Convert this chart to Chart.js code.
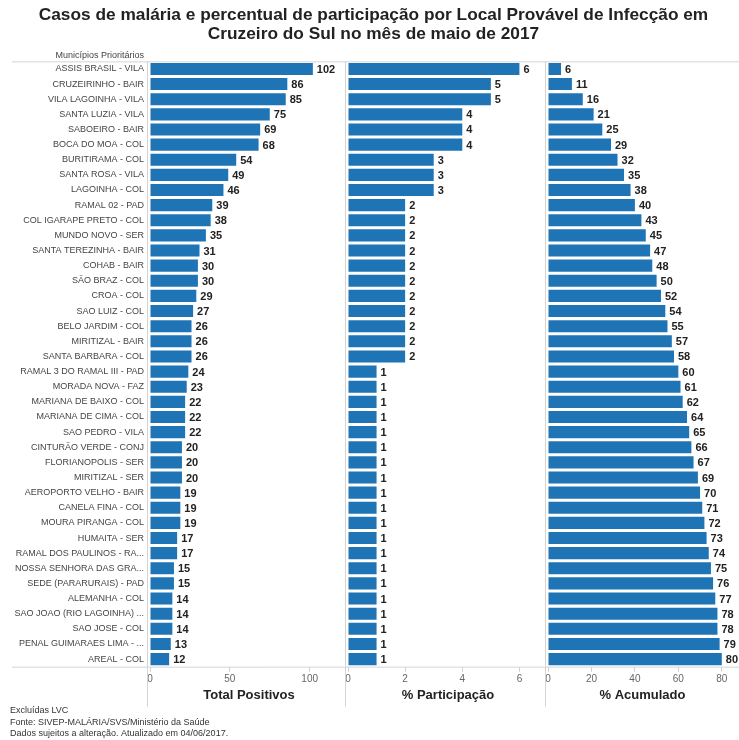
<!DOCTYPE html>
<html>
<head>
<meta charset="utf-8">
<script src="https://cdn.jsdelivr.net/npm/chart.js@4.4.0/dist/chart.umd.min.js"></script>
<style>
  html, body { margin: 0; padding: 0; background: #fff; }
  #wrap { width: 739px; height: 740px; }
</style>
</head>
<body>
<div id="wrap"><canvas id="grafico"></canvas></div>
<script>
// locais de infecção (ordem decrescente de casos)
var locais = [
  "ASSIS BRASIL - VILA", "CRUZEIRINHO - BAIR", "VILA LAGOINHA - VILA", "SANTA LUZIA - VILA",
  "SABOEIRO - BAIR", "BOCA DO MOA - COL", "BURITIRAMA - COL", "SANTA ROSA - VILA",
  "LAGOINHA - COL", "RAMAL 02 - PAD", "COL IGARAPE PRETO - COL", "MUNDO NOVO - SER",
  "SANTA TEREZINHA - BAIR", "COHAB - BAIR", "SÃO BRAZ - COL", "CROA - COL",
  "SAO LUIZ - COL", "BELO JARDIM - COL", "MIRITIZAL - BAIR", "SANTA BARBARA - COL",
  "RAMAL 3 DO RAMAL III - PAD", "MORADA NOVA - FAZ", "MARIANA DE BAIXO - COL", "MARIANA DE CIMA - COL",
  "SAO PEDRO - VILA", "CINTURÃO VERDE - CONJ", "FLORIANOPOLIS - SER", "MIRITIZAL - SER",
  "AEROPORTO VELHO - BAIR", "CANELA FINA - COL", "MOURA PIRANGA - COL", "HUMAITA - SER",
  "RAMAL DOS PAULINOS - RA...", "NOSSA SENHORA DAS GRA...", "SEDE (PARARURAIS) - PAD", "ALEMANHA - COL",
  "SAO JOAO (RIO LAGOINHA) ...", "SAO JOSE - COL", "PENAL GUIMARAES LIMA - ...", "AREAL - COL"
];

var totalPositivos = [102, 86, 85, 75, 69, 68, 54, 49, 46, 39, 38, 35, 31, 30, 30, 29, 27, 26, 26, 26,
  24, 23, 22, 22, 22, 20, 20, 20, 19, 19, 19, 17, 17, 15, 15, 14, 14, 14, 13, 12];

var participacao = [6, 5, 5, 4, 4, 4, 3, 3, 3, 2, 2, 2, 2, 2, 2, 2, 2, 2, 2, 2,
  1, 1, 1, 1, 1, 1, 1, 1, 1, 1, 1, 1, 1, 1, 1, 1, 1, 1, 1, 1];

var acumulado = [6, 11, 16, 21, 25, 29, 32, 35, 38, 40, 43, 45, 47, 48, 50, 52, 54, 55, 57, 58,
  60, 61, 62, 64, 65, 66, 67, 69, 70, 71, 72, 73, 74, 75, 76, 77, 78, 78, 79, 80];

var ticksTotal = [0, 50, 100];
var ticksParticipacao = [0, 2, 4, 6];
var ticksAcumulado = [0, 20, 40, 60, 80];

var titulo = ["Casos de malária e percentual de participação por Local Provável de Infecção em",
  "Cruzeiro do Sul no mês de maio de 2017"];
var rodape = ["Excluídas LVC", "Fonte: SIVEP-MALÁRIA/SVS/Ministério da Saúde",
  "Dados sujeitos a alteração. Atualizado em 04/06/2017."];

var AZUL = "#1f74b6";
var FONTE = "'Liberation Sans', Arial, sans-serif";

function serie(dados, eixo) {
  return {
    data: dados,
    xAxisID: eixo,
    backgroundColor: AZUL,
    borderWidth: 0,
    grouped: false,
    barPercentage: 0.8,
    categoryPercentage: 1
  };
}

function eixoX(titulo, max, peso, lista) {
  return {
    type: "linear",
    position: "bottom",
    stack: "paineis",
    stackWeight: peso,
    min: 0,
    max: max,
    afterBuildTicks: function (s) { s.ticks = lista.map(function (v) { return { value: v }; }); },
    grid: { drawOnChartArea: false, drawTicks: true, tickLength: 5, color: "#cfcfcf" },
    border: { display: false },
    ticks: { padding: 2, color: "#666", font: { family: FONTE, size: 10 }, maxRotation: 0 },
    title: { display: true, text: titulo, color: "#222", padding: 0,
             font: { family: FONTE, size: 13, weight: "bold" } }
  };
}

// linhas de moldura, divisórias dos painéis e rótulos de valor
var moldura = {
  id: "moldura",
  beforeDatasetsDraw: function (chart) {
    var ctx = chart.ctx, a = chart.chartArea;
    ctx.save();
    ctx.strokeStyle = "#d4d4d4";
    ctx.lineWidth = 1;
    ctx.beginPath();
    ctx.moveTo(12, a.top + 0.5); ctx.lineTo(chart.width, a.top + 0.5);
    ctx.moveTo(12, a.bottom + 0.5); ctx.lineTo(chart.width, a.bottom + 0.5);
    ["xTotal", "xPart", "xAcum"].forEach(function (id) {
      var x = Math.round(chart.scales[id].left) - 2.5;
      ctx.moveTo(x, a.top); ctx.lineTo(x, a.bottom + 40);
    });
    ctx.stroke();
    ctx.fillStyle = "#444";
    ctx.font = "9px " + FONTE;
    ctx.textAlign = "right";
    ctx.textBaseline = "bottom";
    ctx.fillText("Municípios Prioritários", chart.scales.y.right - 6, a.top - 1);
    ctx.restore();
  },
  afterDatasetsDraw: function (chart) {
    var ctx = chart.ctx;
    ctx.save();
    ctx.fillStyle = "#222";
    ctx.font = "bold 11px " + FONTE;
    ctx.textAlign = "left";
    ctx.textBaseline = "middle";
    chart.data.datasets.forEach(function (ds, i) {
      chart.getDatasetMeta(i).data.forEach(function (bar, j) {
        ctx.fillText(ds.data[j], bar.x + 4, bar.y + 1);
      });
    });
    ctx.restore();
  }
};

new Chart(document.getElementById("grafico"), {
  type: "bar",
  data: {
    labels: locais,
    datasets: [
      serie(totalPositivos, "xTotal"),
      serie(participacao, "xPart"),
      serie(acumulado, "xAcum")
    ]
  },
  options: {
    indexAxis: "y",
    responsive: true,
    maintainAspectRatio: false,
    animation: false,
    layout: { padding: { left: 10, right: 2, top: 0, bottom: 0 } },
    plugins: {
      legend: { display: false },
      tooltip: { enabled: false },
      title: {
        display: true, text: titulo, color: "#222",
        font: { family: FONTE, size: 17.3, weight: "bold", lineHeight: 1.08 },
        padding: { top: 6, bottom: 18 }
      },
      subtitle: {
        display: true, text: rodape, position: "bottom", align: "start", color: "#333",
        font: { family: FONTE, size: 9, lineHeight: 1.25 },
        padding: { top: 2, bottom: 1 }
      }
    },
    scales: {
      y: {
        type: "category",
        afterFit: function (s) { s.width = 140; },
        grid: { display: false, drawTicks: false },
        border: { display: false },
        ticks: { padding: 6, color: "#444", autoSkip: false, font: { family: FONTE, size: 9 } }
      },
      xTotal: eixoX("Total Positivos", 124, 198, ticksTotal),
      xPart: eixoX("% Participação", 7.0, 200, ticksParticipacao),
      xAcum: eixoX("% Acumulado", 87, 189, ticksAcumulado)
    }
  },
  plugins: [moldura]
});
</script>
</body>
</html>
